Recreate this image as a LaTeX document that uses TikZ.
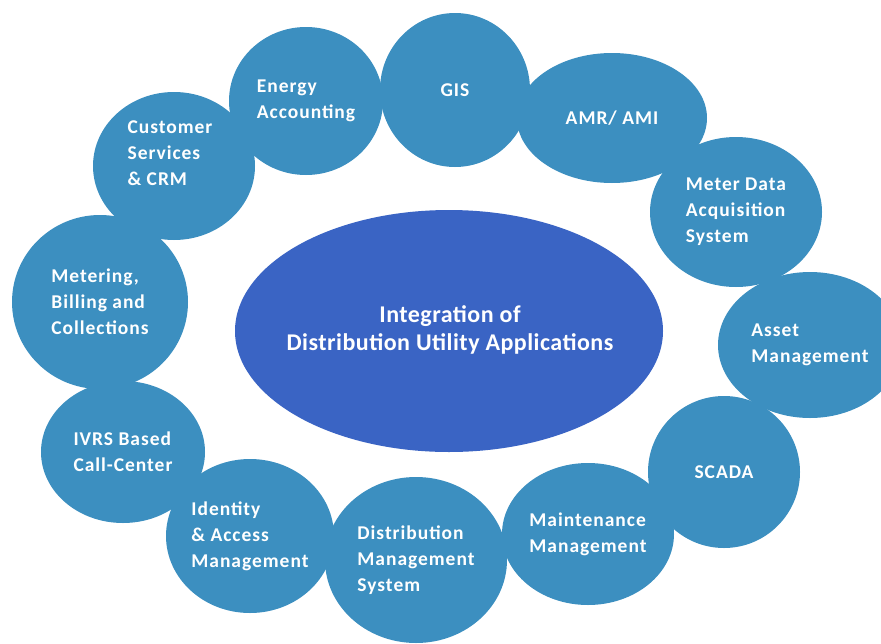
\documentclass[tikz,border=0pt]{standalone}
\usepackage{fontspec}
\setmainfont{Carlito}
\usetikzlibrary{shapes.geometric}
\definecolor{bubbleblue}{RGB}{60,143,192}
\definecolor{coreblue}{RGB}{58,100,196}
\tikzset{
  bubbletext/.style={text=white, align=left,
    font=\bfseries\fontsize{19.5}{26}\selectfont\addfontfeatures{LetterSpace=5}},
  bubble/.style={ellipse, fill=bubbleblue, inner sep=0pt, bubbletext},
  core/.style={ellipse, fill=coreblue, inner sep=0pt},
  coretext/.style={text=white, align=center,
    font=\bfseries\fontsize{24}{28}\selectfont\addfontfeatures{LetterSpace=2}}
}
\begin{document}
\begin{tikzpicture}[x=1pt, y=-1pt]

\useasboundingbox (0,0) rectangle (881,643);

\node[bubble, minimum width=154, minimum height=148] (energy) at (306,101) {Energy\\Accounting};

\node[bubble, minimum width=150, minimum height=154] (gis) at (455,90) {GIS};

\node[bubble, minimum width=190, minimum height=130] (amr) at (612,118) {AMR/ AMI};

\node[bubble, minimum width=172, minimum height=150] (mdas) at (736,212) {Meter Data\\Acquisition\\System};

\node[bubble, minimum width=184, minimum height=146] (asset) at (810,345) {Asset\\Management};

\node[bubble, minimum width=152, minimum height=152] (scada) at (724,472) {SCADA};

\node[bubble, minimum width=172, minimum height=142] (maint) at (588,534) {Maintenance\\Management};

\node[bubble, minimum width=182, minimum height=166] (dms) at (416,560) {Distribution\\Management\\System};

\node[bubble, minimum width=168, minimum height=154] (iam) at (250,536) {Identity\\\& Access\\Management};

\node[bubble, minimum width=164, minimum height=142] (ivrs) at (123,452) {IVRS Based\\Call-Center};

\node[bubble, minimum width=176, minimum height=174] (mbc) at (100,302) {Metering,\\Billing and\\Collections};

\node[bubble, minimum width=162, minimum height=148] (crm) at (174,166) {};
\node[bubbletext] (crmtext) at (170,153) {Customer\\Services\\\& CRM};

\node[core, minimum width=428, minimum height=242] (integ) at (449,331) {};
\node[coretext] (integtext) at (450,330) {Integration of\\Distribution Utility Applications};

\end{tikzpicture}
\end{document}
